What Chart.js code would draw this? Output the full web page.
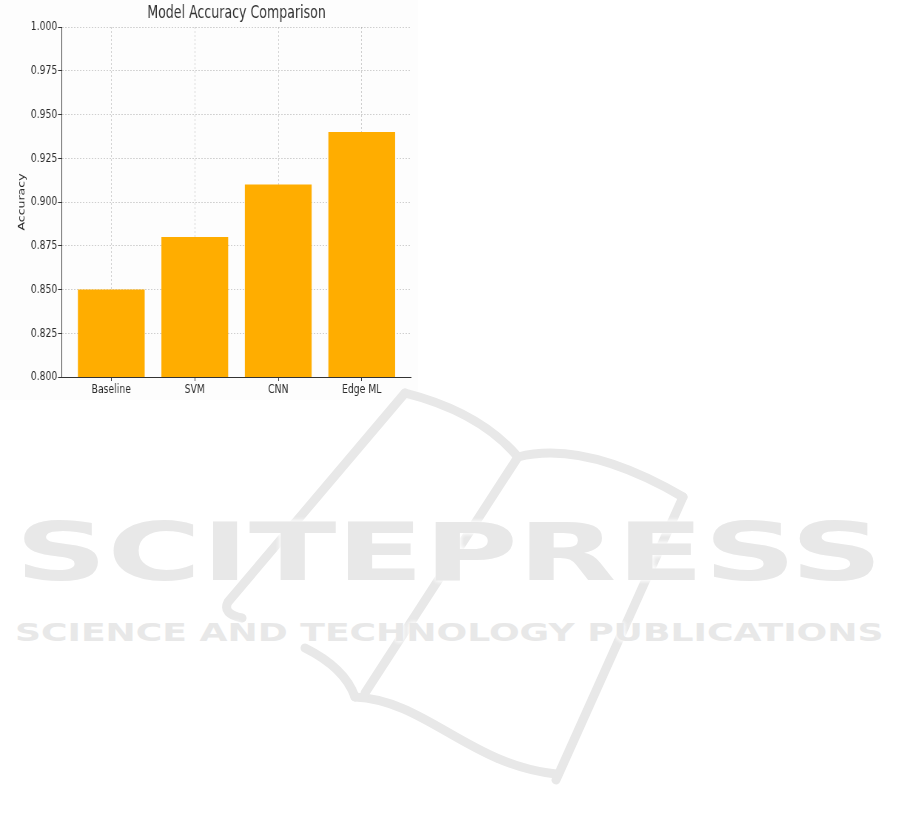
<!DOCTYPE html>
<html>
<head>
<meta charset="utf-8">
<script src="https://cdn.jsdelivr.net/npm/chart.js@4"></script>
<style>
  body { margin: 0; background: #fff; width: 901px; height: 817px; position: relative; overflow: hidden; }
  #figbg { position: absolute; left: 0; top: 0; width: 418px; height: 400px; background: #fdfdfd; z-index: 0; }
  #wrap { position: absolute; left: 0; top: 0; width: 595px; height: 400px; z-index: 3;
          transform: scaleX(0.74); transform-origin: 0 0; }
  #book { position: absolute; left: 0; top: 0; z-index: 1; }
  .wm { position: absolute; left: 15px; color: #e8e8e8; font-family: "DejaVu Sans"; font-weight: bold;
        white-space: nowrap; transform-origin: 0 0; z-index: 2; line-height: 1;
        text-shadow: 0 0 4px #fff, 0 0 4px #fff; }
  #wm1 { top: 513px; font-size: 80px; }
  #wm2 { top: 620px; font-size: 25px; }
</style>
</head>
<body>
<div id="figbg"></div>
<svg id="book" width="901" height="817">
  <g fill="none" stroke="#e8e8e8" stroke-width="9" stroke-linecap="round" stroke-linejoin="round">
    <path d="M405,393 L228,602 Q222,614 242,618"/>
    <path d="M305,648 Q345,668 355,697"/>
    <path d="M355,697 C425,700 470,765 556,774"/>
    <path d="M556,780 L683,497"/>
    <path d="M405,393 Q480,412 518,457 Q585,440 683,497"/>
    <path d="M518,457 L365,693"/>
  </g>
</svg>
<div class="wm" id="wm1">SCITEPRESS</div>
<div class="wm" id="wm2">SCIENCE AND TECHNOLOGY PUBLICATIONS</div>
<div id="wrap"><canvas id="barChart" width="595" height="400"></canvas></div>
<script>
// values
let categories = ["Baseline", "SVM", "CNN", "Edge ML"]
let accuracy = [0.85, 0.88, 0.91, 0.94]
let yMin = 0.8
let yMax = 1.0
let yStep = 0.025

// stretch the watermark lines to the width they take in the picture
function fitWidth(id, w) {
    const el = document.getElementById(id)
    el.style.transform = 'scaleX(' + (w / el.offsetWidth) + ')'
}
fitWidth('wm1', 868)
fitWidth('wm2', 868)

const font = '"DejaVu Sans", sans-serif'
const gridColor = 'rgba(150, 150, 150, 0.45)'
const textColor = '#2a2a2a'

const chart = document.getElementById("barChart");
let barChart = new Chart(chart, {
    type: "bar",
    data: {
        datasets: [{
            label: 'Accuracy',
            data: accuracy.map((v, i) => ({ x: i, y: v })),
            backgroundColor: '#ffad00',
            borderWidth: 0,
            categoryPercentage: 1.0,
            barPercentage: 0.8,
        }]
    },
    options: {
        responsive: false,
        animation: false,
        layout: { padding: { left: 0, right: 39.6, top: 0, bottom: 0 } },
        plugins: {
            legend: { display: false },
            tooltip: { enabled: false },
            title: {
                display: true,
                fullSize: false,
                text: 'Model Accuracy Comparison',
                color: '#333',
                font: { family: font, size: 17, weight: 'normal' },
                padding: { top: 3, bottom: 3.6 },
            },
        },
        scales: {
            x: {
                type: 'linear',
                min: -0.59,
                max: 3.59,
                offset: false,
                z: 1,
                afterBuildTicks: scale => {
                    scale.ticks = categories.map((c, i) => ({ value: i }))
                },
                afterFit: scale => { scale.height = 23 },
                ticks: {
                    color: textColor,
                    padding: 1,
                    maxRotation: 0,
                    autoSkip: false,
                    font: { family: font, size: 12.5 },
                    callback: v => categories[v],
                },
                grid: {
                    offset: false,
                    color: gridColor,
                    tickLength: 4,
                    tickColor: '#333',
                    tickBorderDash: [],
                },
                border: { display: true, color: '#333', width: 1, dash: [2, 2] },
            },
            y: {
                min: yMin,
                max: yMax,
                z: 1,
                afterFit: scale => { scale.width = 83.8 },
                ticks: {
                    stepSize: yStep,
                    color: textColor,
                    padding: 1,
                    font: { family: font, size: 12.5 },
                    callback: v => v.toFixed(3),
                },
                grid: {
                    color: gridColor,
                    tickLength: 5.4,
                    tickColor: '#333',
                    tickBorderDash: [],
                },
                border: { display: true, color: '#333', width: 1, dash: [2, 2] },
                title: {
                    display: true,
                    text: 'Accuracy',
                    color: textColor,
                    font: { family: font, size: 12.5 },
                    padding: { top: 22.2, bottom: 0 },
                },
            },
        },
    },
})
</script>
</body>
</html>
